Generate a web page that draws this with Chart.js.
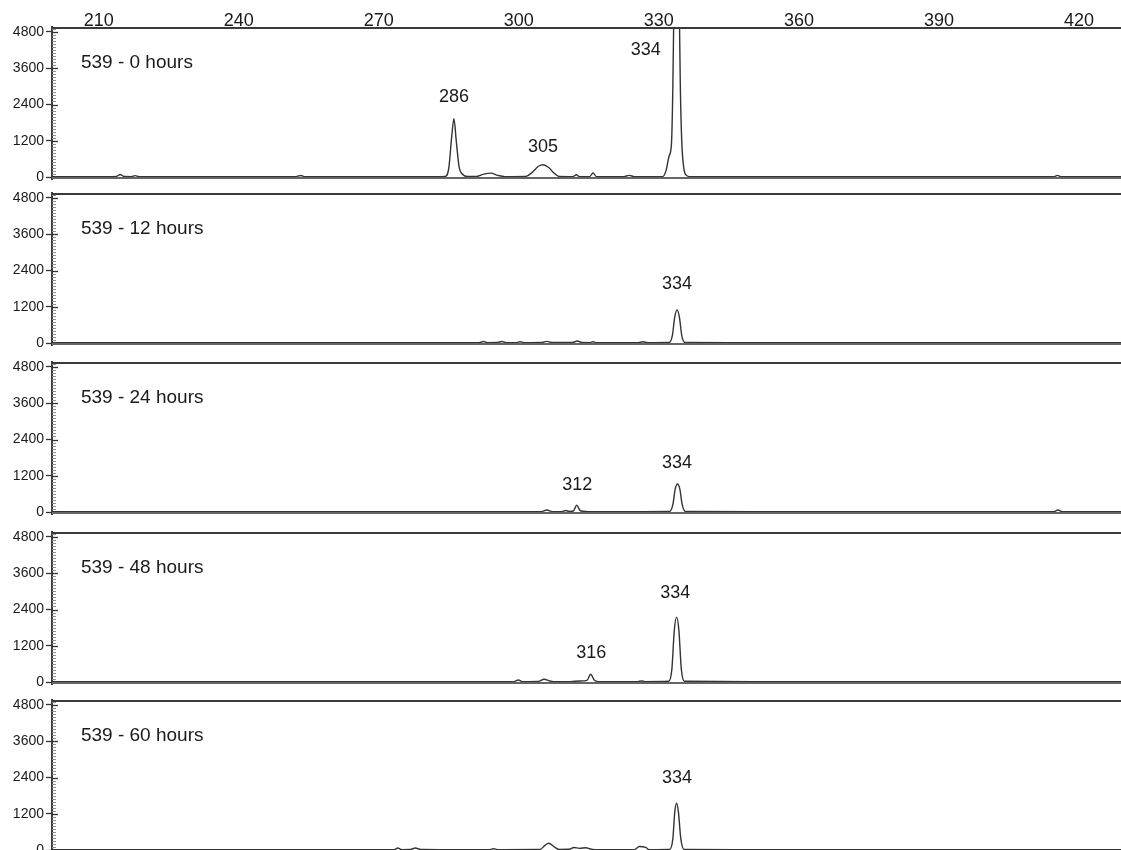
<!DOCTYPE html>
<html><head><meta charset="utf-8">
<script src="https://cdn.jsdelivr.net/npm/chart.js@4.4.0/dist/chart.umd.min.js"></script>
<style>
html,body{margin:0;padding:0;background:#fff;overflow:hidden;width:1121px;height:850px;}
#root{position:absolute;left:0;top:0;width:1121px;height:900px;}
canvas{position:absolute;left:0;top:0;}
</style></head><body>
<div id="root"></div>
<script>
// ---------- DATA ----------
const panelTitles = ['539 - 0 hours', '539 - 12 hours', '539 - 24 hours', '539 - 48 hours', '539 - 60 hours'];
const xTickValues = [210, 240, 270, 300, 330, 360, 390, 420];
const yTickValues = [0, 1200, 2400, 3600, 4800];

const trace0h = [[200,15],[205,15],[212,15],[213.8,25],[214.6,90],[215.4,25],[217,20],[217.8,50],[218.6,20],[225,15],[233,20],[240,15],[246,20],[252,15],[253.3,55],[254.2,15],[262,15],[270,20],[280,15],[284.2,25],[285,300],[285.6,1300],[286.1,1930],[286.6,1200],[287.2,350],[288,90],[289,25],[291,25],[292.5,100],[294,135],[295.5,60],[297,20],[301.5,25],[302.8,150],[304.2,360],[305.2,410],[306.4,320],[307.5,140],[308.6,25],[311.6,20],[312.3,80],[313,20],[315.2,20],[315.9,140],[316.6,20],[322.5,20],[323.6,60],[324.8,20],[330.8,20],[331.5,200],[332.2,700],[332.7,1100],[333.0,3000],[333.3,6500],[333.8,9500],[334.3,6500],[334.6,3000],[334.9,1200],[335.3,350],[335.9,60],[336.6,20],[345,15],[355,20],[370,15],[385,20],[392,15],[400,20],[408,15],[414.6,15],[415.4,60],[416.2,15],[422,15],[429,15]];
const trace12h = [[200,15],[210,20],[218,15],[225,20],[235,15],[245,20],[255,15],[265,20],[275,15],[285,20],[291.5,20],[292.4,55],[293.3,20],[295.5,25],[296.4,55],[297.3,20],[299.5,20],[300.3,45],[301.1,20],[305,25],[306,60],[307,25],[311.5,25],[312.5,70],[313.5,25],[315.3,20],[315.9,45],[316.5,20],[325.6,20],[326.6,45],[327.6,20],[332.2,25],[332.9,260],[333.4,860],[333.9,1100],[334.4,860],[334.9,260],[335.6,25],[345,20],[360,15],[380,20],[400,15],[415,20],[429,15]];
const trace24h = [[200,15],[212,20],[225,15],[240,20],[255,15],[270,20],[285,15],[295,20],[304.8,20],[306,70],[307.2,20],[309.2,20],[310,55],[310.8,25],[311.7,40],[312.4,230],[313.1,60],[313.8,30],[315,20],[325,20],[332.3,25],[333.0,250],[333.5,760],[334.0,930],[334.5,760],[335.0,250],[335.7,25],[350,20],[370,15],[390,20],[405,15],[414.6,20],[415.5,70],[416.4,20],[429,15]];
const trace48h = [[200,15],[215,20],[230,15],[245,20],[260,15],[275,20],[290,15],[298.9,20],[299.9,70],[300.8,20],[304.2,25],[305.4,95],[306.6,40],[307.5,20],[311,20],[313,40],[314.6,60],[315.4,260],[316.2,60],[317,20],[320,20],[325.5,20],[326.3,40],[327,20],[332.1,30],[332.8,450],[333.3,1700],[333.8,2150],[334.3,1700],[334.8,450],[335.5,30],[350,20],[370,15],[390,20],[410,15],[420,20],[429,15]];
const trace60h = [[200,15],[215,20],[230,15],[245,20],[255,15],[265,20],[273.3,20],[274.1,70],[274.9,20],[276.8,25],[277.8,70],[279,25],[285,20],[293.8,20],[294.6,45],[295.4,20],[304.6,25],[305.6,160],[306.4,230],[307.6,110],[308.6,25],[310.8,30],[311.8,90],[313,60],[314.4,80],[315.3,40],[316.2,20],[324.8,20],[325.8,120],[327.2,90],[327.9,20],[332.3,25],[333.0,380],[333.4,1250],[333.8,1550],[334.2,1250],[334.7,380],[335.4,25],[350,20],[370,15],[390,20],[410,15],[429,15]];

const peakLabels0h  = [['286', 286.1, 2650], ['305', 305.2, 1000], ['334', 327.2, 4200]];
const peakLabels12h = [['334', 333.9, 1950]];
const peakLabels24h = [['312', 312.5, 900], ['334', 333.9, 1620]];
const peakLabels48h = [['316', 315.5, 960], ['334', 333.5, 2940]];
const peakLabels60h = [['334', 333.9, 2380]];

const traces = [trace0h, trace12h, trace24h, trace48h, trace60h];
const peakLabels = [peakLabels0h, peakLabels12h, peakLabels24h, peakLabels48h, peakLabels60h];
const titlePos = [206.2, 3780];

// ---------- LAYOUT ----------
const panelTops = [27, 193, 362, 532, 700];
const panelHeight = 152;
const canvasH = 900;
const FONT = "'Liberation Sans', Arial, Helvetica, sans-serif";

const framePlugin = {
  id: 'frame',
  afterDraw(chart) {
    const {ctx, chartArea: a, scales} = chart;
    const y = scales.y;
    ctx.save();
    for (let v = 0; v <= 4960; v += 100) {
      const py = Math.round(y.getPixelForValue(v)) + 0.5;
      const major = v % 1200 === 0;
      ctx.strokeStyle = major ? '#333' : '#8f8f8f';
      ctx.lineWidth = major ? 1.3 : 1;
      ctx.beginPath();
      ctx.moveTo(a.left, py);
      ctx.lineTo(a.left + (major ? 6 : 4), py);
      ctx.stroke();
    }
    ctx.strokeStyle = '#3a3a3a';
    ctx.lineWidth = 2;
    ctx.beginPath(); ctx.moveTo(a.left, a.top + 1); ctx.lineTo(a.right, a.top + 1); ctx.stroke();
    ctx.strokeStyle = '#666';
    ctx.lineWidth = 2;
    ctx.beginPath(); ctx.moveTo(a.left, a.bottom - 1); ctx.lineTo(a.right, a.bottom - 1); ctx.stroke();
    ctx.restore();
  },
  afterDatasetsDraw(chart) {
    const {ctx, scales} = chart;
    const i = chart.options.plugins.frame.index;
    ctx.save();
    ctx.fillStyle = '#1a1a1a';
    ctx.textBaseline = 'middle';
    ctx.font = '19px ' + FONT;
    ctx.textAlign = 'left';
    ctx.fillText(panelTitles[i], scales.x.getPixelForValue(titlePos[0]), scales.y.getPixelForValue(titlePos[1]));
    ctx.font = '18px ' + FONT;
    ctx.textAlign = 'center';
    for (const [t, xv, yv] of peakLabels[i]) {
      ctx.fillText(t, scales.x.getPixelForValue(xv), scales.y.getPixelForValue(yv));
    }
    ctx.restore();
  }
};

const root = document.getElementById('root');
traces.forEach((tr, i) => {
  const cv = document.createElement('canvas');
  cv.width = 1121; cv.height = canvasH;
  cv.style.width = '1121px'; cv.style.height = canvasH + 'px';
  root.appendChild(cv);
  new Chart(cv, {
    type: 'line',
    data: { datasets: [{
      data: tr.map(([x, y]) => ({x, y})),
      borderColor: '#333',
      borderWidth: 1.4,
      pointRadius: 0,
      cubicInterpolationMode: 'monotone',
      fill: false
    }]},
    options: {
      responsive: false, animation: false, events: [],
      layout: { padding: { top: i === 0 ? 0 : panelTops[i], bottom: canvasH - panelTops[i] - panelHeight, left: 0, right: 0 } },
      plugins: { legend: { display: false }, tooltip: { enabled: false }, frame: { index: i } },
      scales: {
        x: {
          type: 'linear', min: 200, max: 429, position: 'top', display: i === 0,
          afterFit: s => { if (i === 0) s.height = panelTops[0]; },
          afterBuildTicks: s => { s.ticks = xTickValues.map(v => ({value: v})); },
          grid: { display: false, drawTicks: false },
          border: { display: false },
          ticks: { padding: -5, autoSkip: false, maxRotation: 0, color: '#1a1a1a', font: { family: FONT, size: 18 },
                   callback: v => String(v) }
        },
        y: {
          min: -60, max: 4960,
          afterFit: s => { s.width = 52; },
          afterBuildTicks: s => { s.ticks = yTickValues.map(v => ({value: v})); },
          grid: { drawOnChartArea: false, tickLength: 6, tickColor: '#333', tickWidth: 1.3 },
          border: { display: true, color: '#3a3a3a', width: 2 },
          ticks: { padding: 2, color: '#1a1a1a', font: { family: FONT, size: 14 }, callback: v => String(v) }
        }
      }
    },
    plugins: [framePlugin]
  });
});
</script>
</body></html>
